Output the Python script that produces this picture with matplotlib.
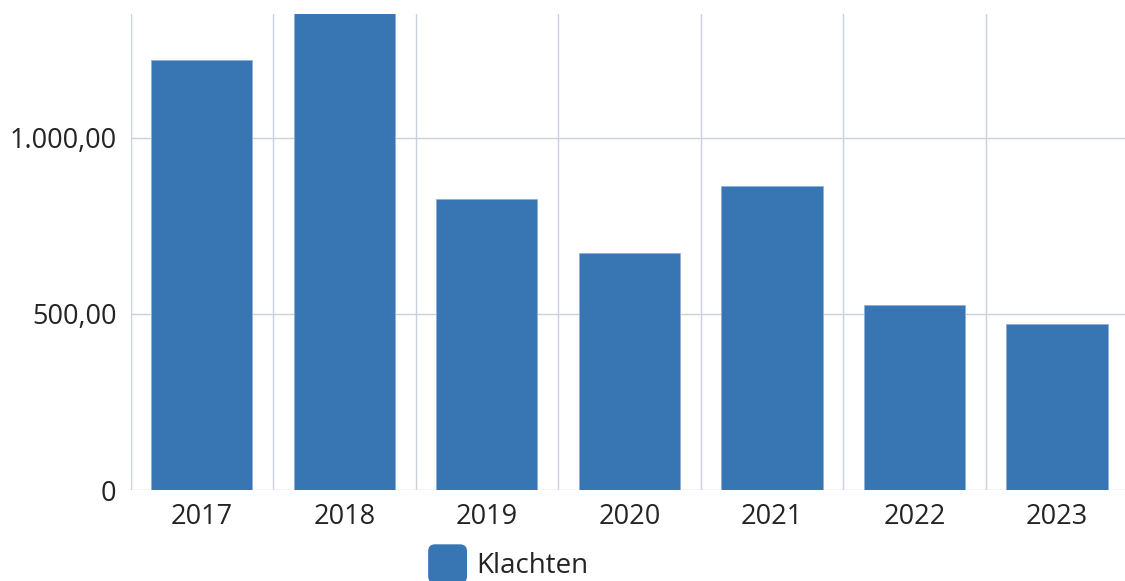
import matplotlib.pyplot as plt
from matplotlib.ticker import FuncFormatter
from matplotlib.patches import FancyBboxPatch
from matplotlib.legend_handler import HandlerPatch

years = ['2017', '2018', '2019', '2020', '2021', '2022', '2023']
klachten = [1221, 1360, 827, 674, 862, 526, 472]
y_ticks = [0, 500, 1000]

plt.rcParams['font.family'] = ['Open Sans', 'DejaVu Sans']


# afgerond vierkantje in de legenda
class RoundBox(HandlerPatch):
    def create_artists(self, legend, orig, xd, yd, w, h, fs, trans):
        s = w
        p = FancyBboxPatch((xd, yd + h / 2 - s / 2), s, s,
                           boxstyle='round,pad=0,rounding_size=%.1f' % (s * 0.18),
                           facecolor=orig.get_facecolor(), edgecolor='none',
                           transform=trans)
        return [p]


fig = plt.figure(figsize=(11.25, 5.81), dpi=100)
ax = fig.add_axes([0.116, 0.1566, 0.887, 0.8194])

x = list(range(len(years)))
bars = ax.bar(x, klachten, width=0.71, color='#3776b3', edgecolor='#8fb0d6',
              linewidth=0.6, label='Klachten', zorder=2)

ax.set_xlim(-0.5, len(years) - 0.5)
ax.set_ylim(0, 1352)

ax.set_yticks(y_ticks)
ax.yaxis.set_major_formatter(FuncFormatter(
    lambda v, p: '0' if v == 0 else f'{v:,.2f}'.replace(',', 'X').replace('.', ',').replace('X', '.')))
ax.set_xticks(x)
ax.set_xticklabels(years)
ax.set_xticks([i - 0.5 for i in range(len(years) + 1)], minor=True)
ax.grid(axis='y', which='major', color='#c9d1dd', linewidth=1, zorder=0)
ax.grid(axis='x', which='minor', color='#c9d1dd', linewidth=1, zorder=0)
ax.tick_params(axis='both', which='both', length=0, labelsize=19.5, colors='#252423')
ax.tick_params(axis='x', pad=9)
ax.tick_params(axis='y', pad=10)

for s in ['top', 'right', 'left', 'bottom']:
    ax.spines[s].set_visible(False)

fig.legend(handles=[bars.patches[0]], labels=['Klachten'],
           loc='center', bbox_to_anchor=(0.452, 0.025), frameon=False,
           fontsize=20, handlelength=1.4, handleheight=0.7, handletextpad=0.35,
           labelcolor='#252423', handler_map={type(bars.patches[0]): RoundBox()})

fig.savefig('out.png', dpi=100)
